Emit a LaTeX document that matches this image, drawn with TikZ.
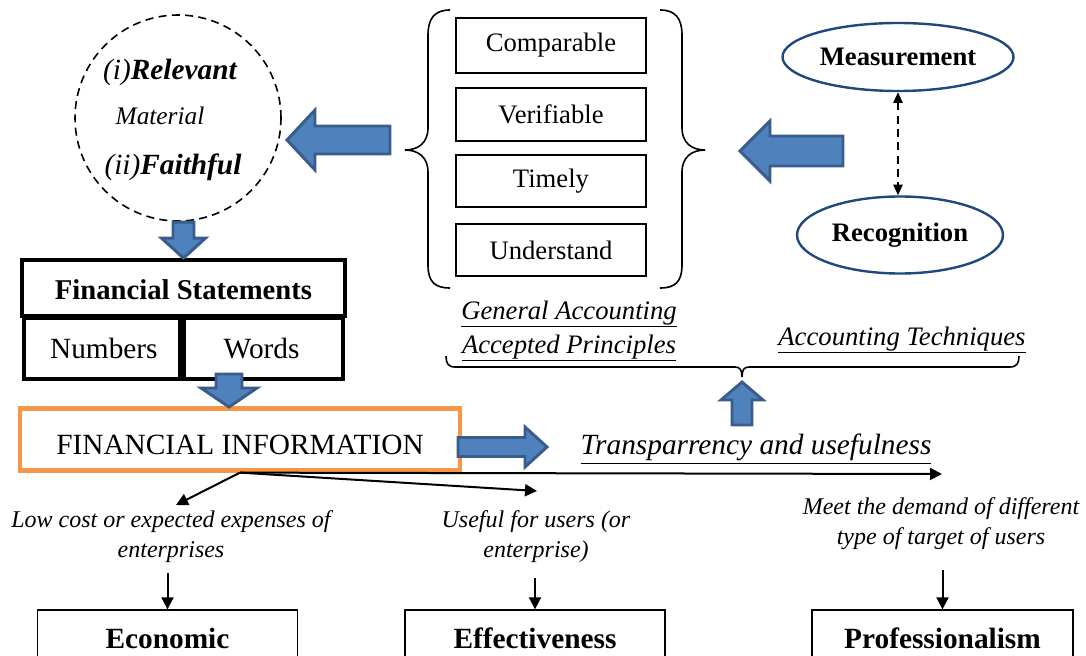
\documentclass[tikz,border=0pt]{standalone}
\usepackage{fontspec}
\setmainfont{Liberation Serif}
\usetikzlibrary{arrows.meta,shapes.geometric}
\newdimen\px \px=0.75pt
\definecolor{fillblue}{HTML}{4F81BD}
\definecolor{edgeblue}{HTML}{385D8A}
\definecolor{ovalblue}{HTML}{1F497D}
\definecolor{infoorange}{HTML}{F79646}
\newcommand\fsz[2]{\fontsize{#1}{#2}\selectfont}
\begin{document}
\begin{tikzpicture}[x=0.75pt,y=-0.75pt,
  blk/.style={line width=1.5pt,-{Triangle[length=9pt,width=9pt]}},
  cell/.style={draw,line width=2.8pt,inner sep=0pt},
  quality/.style={draw,line width=1pt,minimum width=190\px,inner sep=0pt,font=\fsz{20}{24}},
  oval/.style={ellipse,draw=ovalblue,line width=1.8pt,inner sep=0pt,font=\bfseries\fsz{20}{24}},
  outcome/.style={draw,line width=1pt,minimum width=260\px,minimum height=56\px,font=\bfseries\fsz{22}{26}},
  note/.style={align=center,font=\itshape\fsz{18}{22.5}},
  ul/.style={align=center,font=\itshape\fsz{20}{25.5}},
  fat/.style={fill=fillblue,draw=edgeblue,line width=2.2pt,line join=miter},
  pics/blockarrow/.style n args={4}{code={
    \draw[fat] (0,0) -- (-#2,#3) -- (-#2,#4) -- (-#1,#4) -- (-#1,-#4)
      -- (-#2,-#4) -- (-#2,-#3) -- cycle;}}]
\useasboundingbox (0,0) rectangle (1086,656);
\clip (0,0) rectangle (1086,656);
% qualitative characteristics
\node[circle,draw,dash pattern=on 6pt off 4pt,line width=1.2pt,minimum size=206\px,inner sep=0pt] (qual) at (178,118) {};
\node[font=\fsz{22}{26}] (rel) at (170,72) {\itshape(i)\bfseries Relevant};
\node[font=\itshape\fsz{19}{23}] (mat) at (160,116) {Material};
\node[font=\fsz{22}{26}] (fai) at (173,167) {\itshape(ii)\bfseries Faithful};
\node[quality,minimum height=55\px] (comp) at (551,45.5) {Comparable};
\node[quality,minimum height=53\px] (veri) at (551,114.5) {Verifiable};
\node[quality,minimum height=52\px] (time) at (551,181) {Timely};
\node[quality,minimum height=52\px] (und) at (551,250) {Understand};
\draw[line width=1.2pt] (450,10) .. controls (435,10) and (428,18) .. (428,35)
 -- (428,128) .. controls (428,143) and (418,150) .. (405,150)
 .. controls (418,150) and (428,157) .. (428,172)
 -- (428,265) .. controls (428,282) and (435,288) .. (450,288);
\draw[line width=1.2pt] (660,10) .. controls (675,10) and (682,18) .. (682,35)
 -- (682,128) .. controls (682,143) and (692,150) .. (705,150)
 .. controls (692,150) and (682,157) .. (682,172)
 -- (682,265) .. controls (682,282) and (675,288) .. (660,288);
% recognition and measurement
\node[oval,minimum width=231\px,minimum height=68\px] (meas) at (898,57) {Measurement};
\node[oval,minimum width=206\px,minimum height=77\px] (recog) at (900,235) {Recognition};
\draw[line width=1.2pt,dash pattern=on 6pt off 4pt,{Triangle[length=8pt,width=7pt]}-{Triangle[length=8pt,width=7pt]}]
 (meas.south) -- (meas.south |- recog.north);
% statements
\node[cell,minimum width=323\px,minimum height=56\px,text height=17pt,text depth=0pt,font=\bfseries\fsz{21.5}{26}] (fs) at (183.5,288) {Financial Statements};
\node[cell,minimum width=160\px,minimum height=61\px,anchor=north west,font=\fsz{22}{26}] (num) at (22,316) {Numbers};
\node[cell,minimum width=163\px,minimum height=61\px,anchor=north east,font=\fsz{22}{26}] (wrd) at (345,316) {Words};
\node[draw=infoorange,line width=3.2pt,minimum width=440\px,minimum height=62\px,text height=23pt,text depth=0pt,font=\fsz{22}{26}] (fi) at (240,439.5) {FINANCIAL INFORMATION};
% block arrows
\pic[rotate=180] at (287,140) {blockarrow={103}{28}{30}{14}};
\pic[rotate=180] at (740,151) {blockarrow={103}{30}{30}{15}};
\pic[rotate=-90] at (fs.north) {blockarrow={36}{20}{22}{10.5}};
\pic[rotate=-90] at (229,407) {blockarrow={33}{19}{28}{13}};
\pic at (547,447) {blockarrow={89}{22}{20}{9.5}};
\pic[rotate=90] at (742,382) {blockarrow={43}{18}{21}{10}};
% principles and techniques
\node[ul] (gaap) at (569,331) {\underline{General Accounting}\\\underline{Accepted Principles}};
\node[ul] (tech) at (902,340) {\underline{Accounting Techniques}};
\draw[line width=1.2pt] (446,356) .. controls (446,363) and (448,367) .. (455,367)
 -- (735,367) .. controls (740,367) and (742,370) .. (742,377)
 .. controls (742,370) and (744,367) .. (749,367)
 -- (1010,367) .. controls (1017,367) and (1019,363) .. (1019,356);
\node[font=\itshape\fsz{22}{26}] (trans) at (756,449) {\underline{Transparrency and usefulness}};
% outcomes
\coordinate (lowtip) at (176,505);
\coordinate (usetip) at (537,491);
\coordinate (meettip) at (942,474);
\draw[blk] (fi.south) -- (lowtip);
\draw[blk] (fi.south) -- (usetip);
\draw[blk] (fi.south) -- (meettip);
\node[note] (lowc) at (171,537) {Low cost or expected expenses of\\enterprises};
\node[note] (usef) at (536,537) {Useful for users (or\\enterprise)};
\node[note] (meet) at (941,524) {Meet the demand of different\\type of target of users};
\node[outcome] (econ) at (167.5,638) {Economic};
\node[outcome] (eff) at (535,638) {Effectiveness};
\node[outcome,minimum width=261\px] (prof) at (942.5,638) {Professionalism};
\coordinate (econtop) at (167.5,573);
\coordinate (efftop) at (535,578);
\coordinate (proftop) at (942.5,570);
\draw[blk] (econtop) -- (econ.north);
\draw[blk] (efftop) -- (eff.north);
\draw[blk] (proftop) -- (prof.north);
\end{tikzpicture}
\end{document}
